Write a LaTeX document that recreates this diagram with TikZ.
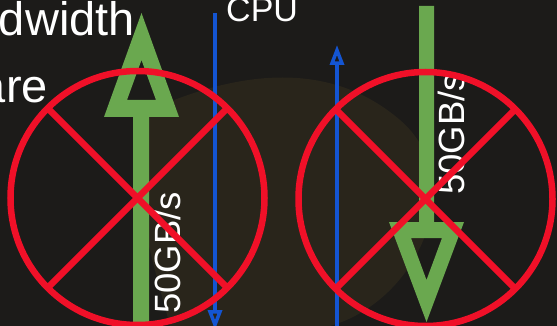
\documentclass[tikz,border=0pt]{standalone}
\usepackage{fontspec}
\setmainfont{Liberation Sans}
\usetikzlibrary{arrows.meta}
\definecolor{bgdark}{RGB}{28,27,25}
\definecolor{bgbrown}{RGB}{52,46,30}
\definecolor{gr}{RGB}{106,168,79}
\definecolor{rd}{RGB}{240,16,40}
\definecolor{bl}{RGB}{20,85,210}
\tikzset{
  bigtext/.style={text=white, inner sep=0pt, font=\fontsize{47}{47}\selectfont},
  cputext/.style={text=white, inner sep=0pt, font=\fontsize{34}{34}\selectfont},
  ratetext/.style={text=white, inner sep=0pt, rotate=90, anchor=base west, font=\fontsize{36.5}{36.5}\selectfont},
  bluearrow/.style={draw=bl, line width=3.5pt, -{Triangle[open, length=20pt, width=14pt]}},
  greenarrow/.style={fill=gr, even odd rule},
  nosign/.style={draw=rd, line width=6.5pt},
}
\begin{document}
\begin{tikzpicture}[x=1pt, y=-1pt]
\useasboundingbox (0,0) rectangle (557,326);
\clip (0,0) rectangle (557,326);
% background
\fill[bgdark] (0,0) rectangle (557,326);
\fill[bgbrown, opacity=0.55] (150,110) .. controls (240,70) and (330,60) .. (400,120)
  .. controls (470,180) and (420,300) .. (330,326) -- (170,326) .. controls (150,250) and (120,160) .. (150,110) -- cycle;
% texts
\node[bigtext, anchor=base east] (t1) at (135,36) {dwidth};
\node[bigtext, anchor=base east] (t2) at (48,103) {are};
\node[cputext, anchor=base west] (cpu) at (226,22) {CPU};
% blue arrows
\coordinate (b1s) at (215,13);
\coordinate (b1e) at (215,330);
\coordinate (b2s) at (337,330);
\coordinate (b2e) at (337,45);
\draw[bluearrow] (b1s) -- (b1e);
\draw[bluearrow] (b2s) -- (b2e);
% green arrows
\fill[greenarrow] (133,330) -- (133,117) -- (104,117) -- (141.5,13) -- (179,117) -- (149,117) -- (149,330) -- cycle
  (127,100) -- (141.5,60) -- (156,100) -- cycle;
\fill[greenarrow] (419,6) -- (419,222) -- (389,222) -- (426.5,322) -- (464,222) -- (434,222) -- (434,6) -- cycle
  (411,238) -- (442,238) -- (426.5,280) -- cycle;
% rate labels
\node[ratetext] (r1) at (180,314) {50GB/s};
\node[ratetext] (r2) at (464,195) {50GB/s};
% red no-signs
\coordinate (c1) at (137.5,198);
\coordinate (c2) at (425.5,199);
\draw[nosign] (c1) circle (127);
\draw[nosign] (c1) ++(135:127) -- ++(-45:254);
\draw[nosign] (c1) ++(45:127) -- ++(-135:254);
\draw[nosign] (c2) circle (127);
\draw[nosign] (c2) ++(135:127) -- ++(-45:254);
\draw[nosign] (c2) ++(45:127) -- ++(-135:254);
\end{tikzpicture}
\end{document}
